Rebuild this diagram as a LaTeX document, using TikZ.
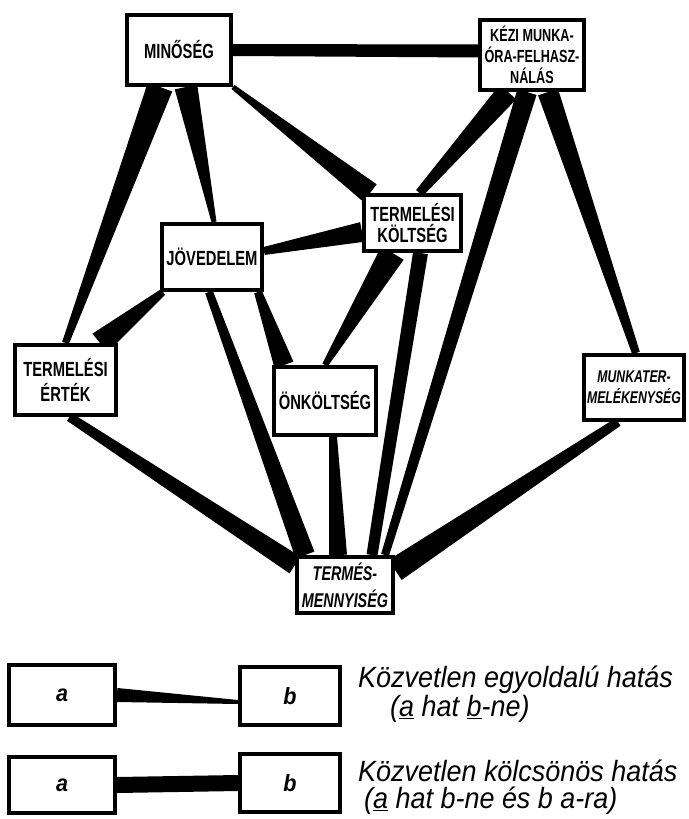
\documentclass[tikz,border=0pt]{standalone}
\usepackage{fontspec}
\setmainfont{Liberation Sans}
\newfontfamily\cellfont[FakeStretch=0.72]{Liberation Sans}
\newfontfamily\legfont[FakeStretch=0.92]{Liberation Sans}
\usetikzlibrary{calc}
\newlength\px
\setlength\px{0.03cm}
\pgfdeclarelayer{background}
\pgfsetlayers{background,main}
% tapering link: from, to, half width at each end (px)
\newcommand\Wedge[4]{%
  \fill ($#1!#3\px!90:#2$) -- ($#1!#3\px!-90:#2$) -- ($#2!#4\px!90:#1$) -- ($#2!#4\px!-90:#1$) -- cycle;}
\tikzset{
  cell/.style={
    draw,
    line width = 4\px,
    fill = white,
    align = center,
    inner sep = 1pt,
    font = \cellfont\bfseries\fontsize{17.5}{18.5}\selectfont
  },
  small/.style={
    font = \cellfont\bfseries\fontsize{15}{18}\selectfont
  },
  legbox/.style={
    draw,
    line width = 4\px,
    fill = white,
    minimum width = 106\px,
    minimum height = 60\px,
    font = \legfont\bfseries\itshape\fontsize{20}{24}\selectfont
  },
  legtext/.style={
    anchor = west,
    inner sep = 0pt,
    font = \legfont\itshape\fontsize{25}{30}\selectfont
  }
}

\begin{document}
\begin{tikzpicture}[x=0.03cm,y=-0.03cm]
  \useasboundingbox (0,0) rectangle (688,819);

  \node[cell, minimum width=104\px, minimum height=70\px] (min) at (179,50) {MINŐSÉG};
  \node[cell, small, minimum width=104\px, minimum height=70\px] (kezi) at (532,55) {KÉZI MUNKA-\\ÓRA-FELHASZ-\\NÁLÁS};
  \node[cell, minimum width=97\px, minimum height=56\px] (kolt) at (412.5,223) {TERMELÉSI\\KÖLTSÉG};
  \node[cell, minimum width=100\px, minimum height=66\px] (jov) at (212,257) {JÖVEDELEM};
  \node[cell, minimum width=101\px, minimum height=70\px, font=\cellfont\bfseries\fontsize{17.5}{21}\selectfont] (ert) at (65.5,380) {TERMELÉSI\\ÉRTÉK};
  \node[cell, minimum width=102\px, minimum height=68\px] (onk) at (325,401) {ÖNKÖLTSÉG};
  \node[cell, minimum width=100\px, minimum height=65\px, font=\cellfont\bfseries\itshape\fontsize{14.5}{18}\selectfont] (munk) at (634,387.5) {MUNKATER-\\MELÉKENYSÉG};
  \node[cell, minimum width=96\px, minimum height=56\px, font=\cellfont\bfseries\itshape\fontsize{17}{23}\selectfont] (termes) at (345,585) {TERMÉS-\\MENNYISÉG};

  \begin{pgfonlayer}{background}
    \Wedge{(min.east)}{([yshift=4\px]kezi.west)}{6}{6.5}
    \Wedge{([xshift=-19\px]min.south)}{(ert.north)}{13}{3.5}
    \Wedge{([xshift=7\px]min.south)}{([xshift=2\px]jov.north)}{11.5}{2.5}
    \Wedge{(min.south east)}{([xshift=8\px]kolt.north west)}{2.5}{11}
    \Wedge{([xshift=-24\px]kezi.south)}{([xshift=7\px]kolt.north)}{11}{4.5}
    \Wedge{([xshift=-5\px]kezi.south)}{([xshift=-10\px]termes.north east)}{10}{4}
    \Wedge{([xshift=16\px]kezi.south)}{([xshift=2\px]munk.north)}{10.5}{4}
    \Wedge{([yshift=-9\px]kolt.west)}{([yshift=6\px]jov.east)}{10}{4}
    \Wedge{([xshift=-20\px]kolt.south)}{(onk.north)}{13}{3}
    \Wedge{([xshift=8\px]kolt.south)}{([xshift=27\px]termes.north)}{7.5}{5.5}
    \Wedge{([xshift=-18\px]ert.north east)}{([xshift=3\px]jov.south west)}{12}{3.5}
    \Wedge{([xshift=12\px]onk.north west)}{([xshift=-6\px]jov.south east)}{10}{4}
    \Wedge{([xshift=10\px]termes.north west)}{([xshift=-3\px]jov.south)}{10}{4}
    \Wedge{([yshift=-10\px]termes.north west)}{([xshift=4\px]ert.south)}{10}{4.5}
    \Wedge{([xshift=-7\px]termes.north)}{([xshift=8\px]onk.south)}{9}{4}
    \Wedge{([yshift=-15\px]termes.north east)}{([xshift=-16\px]munk.south)}{12}{4.5}
  \end{pgfonlayer}

  % legend
  \node[legbox] (a1) at (62,695) {a};
  \node[legbox, minimum width=100\px, minimum height=58\px] (b1) at (290,696) {b};
  \node[legbox, minimum height=56\px] (a2) at (62,785) {a};
  \node[legbox, minimum width=100\px, minimum height=58\px] (b2) at (290,783) {b};
  \begin{pgfonlayer}{background}
    \Wedge{(a1.east)}{([yshift=-6\px]b1.west)}{7}{2}
    \Wedge{(a2.east)}{(b2.west)}{8}{8}
  \end{pgfonlayer}
  \node[legtext] (one) at (358,680) {Közvetlen egyoldalú hatás};
  \node[legtext] (onenote) at (390,709) {(\underline{a} hat \underline{b}-ne)};
  \node[legtext] (two) at (358,771) {Közvetlen kölcsönös hatás};
  \node[legtext] (twonote) at (364,801) {(\underline{a} hat b-ne és b a-ra)};
\end{tikzpicture}
\end{document}
